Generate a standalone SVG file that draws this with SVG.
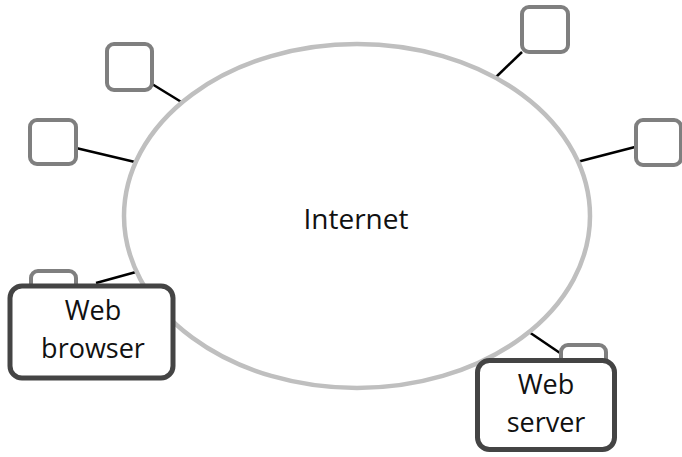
<svg xmlns="http://www.w3.org/2000/svg" width="682" height="457" viewBox="0 0 682 457">
<style>
.cloud{fill:#fff;stroke:#bfbfbf;stroke-width:4.5}
.sm{fill:#fff;stroke:#7f7f7f;stroke-width:4}
.big{fill:#fff;stroke:#444;stroke-width:5}
.ln{stroke:#000;stroke-width:2.5;fill:none}
text{font-family:"Open Sans","Noto Sans","Liberation Sans",sans-serif;fill:#111;text-anchor:middle}
</style>
<g id="connectors">
<line class="ln" x1="152" y1="84" x2="183" y2="103"/>
<line class="ln" x1="522" y1="52" x2="494" y2="79"/>
<line class="ln" x1="635" y1="147" x2="577" y2="162"/>
<line class="ln" x1="76" y1="148" x2="135" y2="162"/>
<line class="ln" x1="96" y1="283" x2="136" y2="272"/>
<line class="ln" x1="529" y1="332" x2="560" y2="353"/>
</g>
<g id="internet">
<ellipse class="cloud" cx="357" cy="216" rx="233" ry="172"/>
<text x="356" y="229" font-size="28">Internet</text>
</g>
<g id="host1"><rect class="sm" x="107" y="44" width="45" height="46" rx="7"/></g>
<g id="host2"><rect class="sm" x="522" y="7" width="46" height="45" rx="7"/></g>
<g id="host3"><rect class="sm" x="636" y="120" width="45" height="45" rx="7"/></g>
<g id="host4"><rect class="sm" x="30" y="120" width="46" height="44" rx="7"/></g>
<g id="host5"><rect class="sm" x="31" y="271" width="45" height="40" rx="7"/></g>
<g id="host6"><rect class="sm" x="561" y="345" width="45" height="40" rx="7"/></g>
<g id="web-browser">
<rect class="big" x="10" y="286" width="163" height="92" rx="12"/>
<text x="93" y="320" font-size="27">Web</text>
<text x="93" y="358" font-size="27">browser</text>
</g>
<g id="web-server">
<rect class="big" x="477.5" y="360.5" width="137" height="89" rx="12"/>
<text x="546" y="394" font-size="27">Web</text>
<text x="546" y="432" font-size="27">server</text>
</g>
</svg>
